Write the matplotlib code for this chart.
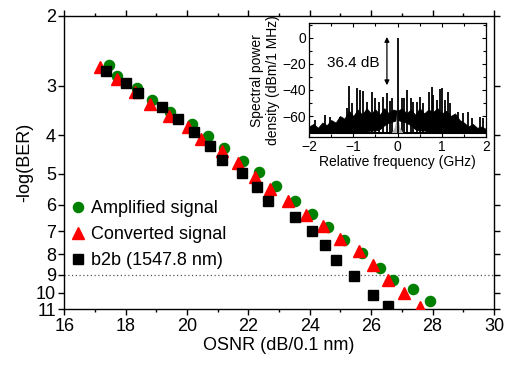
import matplotlib
matplotlib.use("Agg")
import matplotlib.pyplot as plt
from matplotlib.ticker import NullLocator, MultipleLocator, FixedLocator, FixedFormatter

plt.rcParams['font.family'] = ['Liberation Sans', 'DejaVu Sans']

# ---------------- main data ----------------
amp_osnr = [17.47, 17.71, 18.38, 18.85, 19.45, 20.15, 20.67, 21.20, 21.83, 22.35,
            22.89, 23.53, 24.08, 24.60, 25.11, 25.70, 26.28, 26.71, 27.36, 27.91]
amp_ber = [2.66, 2.84, 3.04, 3.26, 3.49, 3.75, 4.03, 4.32, 4.66, 4.97,
           5.37, 5.85, 6.32, 6.81, 7.35, 7.91, 8.63, 9.26, 9.79, 10.46]

conv_osnr = [17.16, 17.71, 18.30, 18.79, 19.41, 20.02, 20.47, 21.13, 21.67, 22.21,
             22.70, 23.29, 23.89, 24.43, 25.00, 25.61, 26.06, 26.55, 27.06, 27.60]
conv_ber = [2.69, 2.89, 3.11, 3.33, 3.58, 3.82, 4.10, 4.40, 4.71, 5.09,
            5.47, 5.88, 6.35, 6.79, 7.32, 7.86, 8.49, 9.30, 9.99, 10.84]

b2b_osnr = [17.36, 18.00, 18.41, 19.20, 19.71, 20.22, 20.76, 21.13, 21.78, 22.28,
            22.64, 23.53, 24.06, 24.49, 24.87, 25.43, 26.06, 26.54]
b2b_ber = [2.75, 2.96, 3.14, 3.39, 3.65, 3.94, 4.25, 4.62, 4.99, 5.42,
           5.86, 6.42, 6.98, 7.56, 8.25, 9.05, 10.10, 10.82]

y_ticks = [2, 3, 4, 5, 6, 7, 8, 9, 10, 11]
x_ticks = [16, 18, 20, 22, 24, 26, 28, 30]
fec_limit = 9

# ---------------- inset data ----------------
env_f = [-2.0, -1.9, -1.8, -1.7, -1.6, -1.5, -1.4, -1.3, -1.2, -1.1, -1.0,
         -0.9, -0.8, -0.7, -0.6, -0.5, -0.4, -0.3, -0.2, -0.1, 0.0,
         0.1, 0.2, 0.3, 0.4, 0.5, 0.6, 0.7, 0.8, 0.9, 1.0,
         1.1, 1.2, 1.3, 1.4, 1.5, 1.6, 1.7, 1.8, 1.9, 2.0]
env_hi = [-68, -66, -69, -65, -67, -63, -65, -60, -62, -56, -60,
          -55, -59, -54, -58, -55, -59, -54, -58, -55, -56,
          -54, -58, -55, -59, -54, -58, -55, -57, -54, -58,
          -56, -60, -58, -63, -65, -68, -66, -69, -68, -70]
env_lo = [-73, -73, -73, -73, -73, -73, -73, -73, -72, -72, -72,
          -72, -72, -72, -71, -71, -70, -67, -65, -64, -63,
          -64, -65, -67, -70, -71, -71, -72, -72, -72, -72,
          -72, -72, -73, -73, -73, -73, -73, -73, -73, -73]

spike_f = [-1.86, -1.64, -1.53, -1.30, -1.15, -1.09, -1.04, -0.92, -0.85, -0.77,
           -0.70, -0.58, -0.51, -0.43, -0.34, -0.24, -0.17, -0.12, 0.09, 0.15,
           0.21, 0.31, 0.36, 0.43, 0.51, 0.58, 0.71, 0.77, 0.81, 0.89,
           0.96, 1.00, 1.07, 1.13, 1.19, 1.37, 1.49, 1.60, 1.68, 1.86, 1.94]
spike_db = [-63.1, -59.2, -61.0, -61.0, -54.1, -37.0, -50.3, -38.8, -40.1, -40.8,
            -49.0, -41.4, -46.4, -49.0, -45.2, -42.6, -48.5, -46.4, -46.0, -46.4,
            -40.1, -46.4, -49.0, -49.0, -45.2, -50.3, -41.4, -38.0, -43.9, -47.7,
            -39.6, -38.8, -47.7, -41.4, -50.3, -56.7, -58.0, -56.7, -61.8, -61.0, -61.8]

skirt_f = [-0.13, -0.06, -0.02, 0.0, 0.02, 0.06, 0.13]
skirt_db = [-73, -69, -62, -52, -62, -69, -73]
carrier_f = 0.0
carrier_db = 0.0
floor_db = -73
osnr_db = 36.4

# ---------------- figure ----------------
fig = plt.figure(figsize=(5.10, 3.67), dpi=100)
ax = fig.add_axes([0.126, 0.1572, 0.8425, 0.800])

ax.axhline(fec_limit, color='#555555', lw=0.9, ls=(0, (1, 2)), zorder=1)

ax.plot(amp_osnr, amp_ber, 'o', color='#008000', ms=7.3, mec='#008000', ls='none',
        label='Amplified signal', zorder=3)
ax.plot(conv_osnr, conv_ber, '^', color='#ff0000', ms=8.5, mec='#ff0000', ls='none',
        label='Converted signal', zorder=4)
ax.plot(b2b_osnr, b2b_ber, 's', color='black', ms=6.5, ls='none',
        label='b2b (1547.8 nm)', zorder=5)

ax.set_yscale('log')
ax.set_ylim(11, 2)
ax.yaxis.set_major_locator(FixedLocator(y_ticks))
ax.yaxis.set_major_formatter(FixedFormatter([str(v) for v in y_ticks]))
ax.yaxis.set_minor_locator(NullLocator())
ax.set_xlim(16, 30)
ax.set_xticks(x_ticks)
ax.xaxis.set_minor_locator(MultipleLocator(1))

ax.tick_params(which='both', direction='out', top=True, right=True, labelsize=13,
               width=1, pad=2)
ax.tick_params(which='major', length=4)
ax.tick_params(which='minor', length=2.5)
for s in ax.spines.values():
    s.set_linewidth(1)

ax.set_xlabel('OSNR (dB/0.1 nm)', fontsize=13, labelpad=2)
ax.set_ylabel('-log(BER)', fontsize=13, labelpad=2)

leg = ax.legend(loc='upper left', bbox_to_anchor=(-0.025, 0.415), frameon=False,
                fontsize=13, handletextpad=0.05, handlelength=1.3,
                labelspacing=0.5, borderpad=0.2)

# ---------------- inset ----------------
ins = fig.add_axes([0.606, 0.6267, 0.347, 0.310])
ins.fill_between(env_f, env_lo, env_hi, color='black', lw=0.6, edgecolor='black',
                 zorder=2)
ins.axhline(floor_db, color='black', lw=1.5, zorder=2)
ins.vlines(spike_f, floor_db, spike_db, color='black', lw=1.3, zorder=3)
ins.fill(skirt_f, skirt_db, color='#b0b0b0', lw=0, zorder=4)
ins.vlines([carrier_f], floor_db, [carrier_db], color='black', lw=1.3, zorder=5)

ins.annotate('', xy=(-0.24, -osnr_db), xytext=(-0.24, 0.5),
             arrowprops=dict(arrowstyle='<|-|>', color='black', lw=0.9,
                             mutation_scale=7, shrinkA=0, shrinkB=0))
ins.text(-1.0, -19.5, f'{osnr_db} dB', fontsize=11, ha='center', va='center')

ins.set_xlim(-2, 2)
ins.set_ylim(-76, 11)
ins.set_xticks([-2, -1, 0, 1, 2])
ins.set_yticks([0, -20, -40, -60])
ins.xaxis.set_minor_locator(MultipleLocator(0.5))
ins.yaxis.set_minor_locator(MultipleLocator(10))
ins.tick_params(which='both', direction='in', top=True, right=True, labelsize=10,
                width=0.8, pad=2)
ins.tick_params(which='major', length=3)
ins.tick_params(which='minor', length=2)
for s in ins.spines.values():
    s.set_linewidth(0.9)
ins.set_xlabel('Relative frequency (GHz)', fontsize=10, labelpad=1)
ins.set_ylabel('Spectral power\ndensity (dBm/1 MHz)', fontsize=10, labelpad=2,
               linespacing=1.15)

fig.savefig('out.png', dpi=100)
